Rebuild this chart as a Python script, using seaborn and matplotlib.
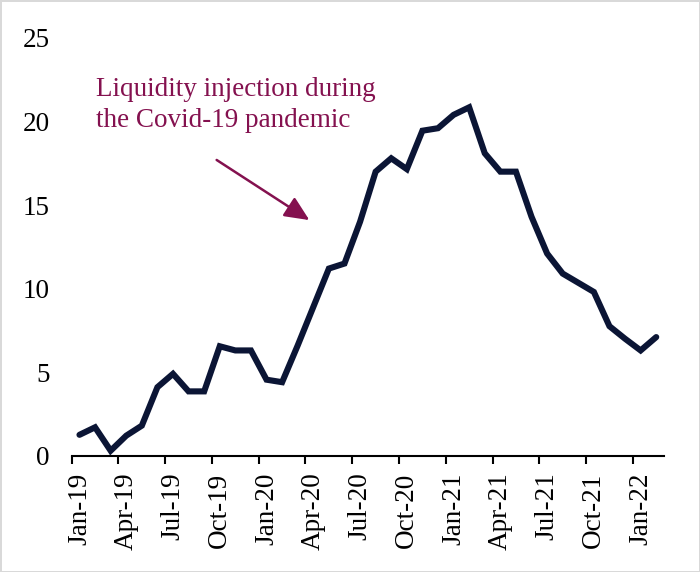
import numpy as np
import pandas as pd
import matplotlib
matplotlib.use("Agg")
import matplotlib.pyplot as plt
import seaborn as sns

# Data (monthly, Jan-19 .. Feb-22)
months = pd.date_range("2019-01-01", "2022-02-01", freq="MS")
values = [1.25, 1.7, 0.3, 1.2, 1.8, 4.1, 4.9, 3.85, 3.85, 6.55, 6.3, 6.3,
          4.55, 4.4, 6.6, 8.9, 11.2, 11.5, 14.0, 17.0, 17.8, 17.15, 19.45, 19.6,
          20.4, 20.85, 18.1, 17.0, 17.0, 14.3, 12.1, 10.9, 10.35, 9.8, 7.75, 7.0,
          6.3, 7.1]
tick_labels = [d.strftime("%b-%y") for d in months]
yticks = [0, 5, 10, 15, 20, 25]
note = "Liquidity injection during\nthe Covid-19 pandemic"

df = pd.DataFrame({"pos": np.arange(len(values)), "value": values})

sns.set_theme(style="white")
plt.rcParams["font.family"] = ["Liberation Serif", "DejaVu Serif"]

navy = "#0b1535"
maroon = "#84114f"

fig = plt.figure(figsize=(7, 5.72), dpi=100, edgecolor="#d9d9d9", linewidth=2)
ax = fig.add_axes([0.1024, 0.2033, 0.8462, 0.7303])

sns.lineplot(data=df, x="pos", y="value", ax=ax, color=navy, linewidth=4.4,
             solid_joinstyle="miter")

ax.set_xlim(-0.5, len(values) - 0.5)
ax.set_ylim(0, 25)
ax.set_xlabel("")
ax.set_ylabel("")

# labels every 3rd month, tick marks between categories
ax.set_xticks(df["pos"][::3])
ax.set_xticklabels(tick_labels[::3], rotation=90, fontsize=19.5, color="black")
ax.set_xticks(np.arange(-0.5, len(values) - 1, 3), minor=True)
ax.tick_params(axis="x", which="major", length=0, pad=12)
ax.tick_params(axis="x", which="minor", length=6, width=1.5, color="black",
               direction="out", bottom=True)
ax.set_yticks(yticks)
ax.tick_params(axis="y", length=0, pad=16, labelsize=19.5, labelcolor="black")

for side in ["left", "right", "top"]:
    ax.spines[side].set_visible(False)
ax.spines["bottom"].set_color("black")
ax.spines["bottom"].set_linewidth(1.5)

ax.text(1.06, 22.65, note, color=maroon, fontsize=19.5, va="top", ha="left",
        linespacing=1.32)
ax.annotate("", xy=(14.75, 14.1), xytext=(8.8, 17.7),
            arrowprops=dict(arrowstyle="-|>,head_length=0.75,head_width=0.34",
                            mutation_scale=20, color=maroon, lw=1.8,
                            shrinkA=0, shrinkB=0))

fig.savefig("out.png", dpi=100)
